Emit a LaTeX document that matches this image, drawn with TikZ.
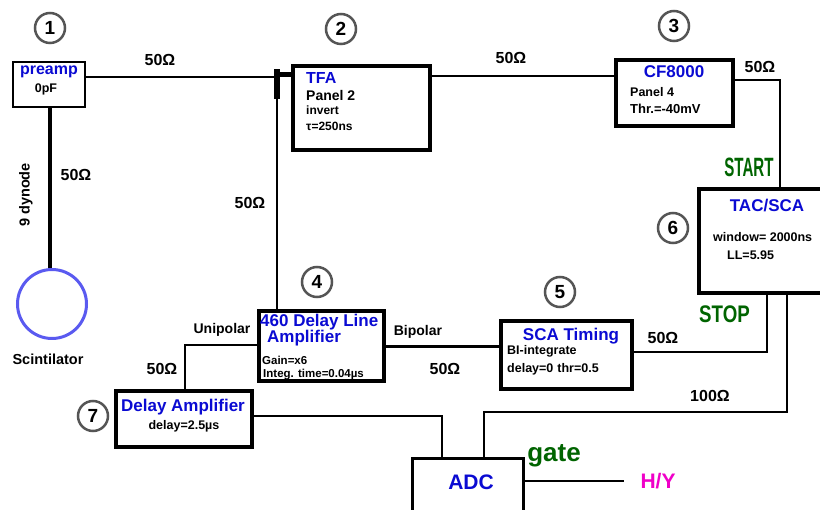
\documentclass[tikz,border=0pt]{standalone}
\usepackage{fontspec}
\setmainfont{Liberation Sans}
\usepackage{graphicx}
\newcommand{\fsz}[1]{\fontsize{#1}{#1}\selectfont}

\begin{document}
\begin{tikzpicture}[x=1pt, y=-1pt, font=\bfseries,
		box/.style={draw, line width=3.6, inner sep=0},
		num/.style={circle, draw=numgray, line width=2.5, minimum size=30, inner sep=0, font=\bfseries\fsz{19}},
		ttl/.style={text=titleblue, font=\bfseries\fsz{17}, inner sep=0},
		txt/.style={font=\bfseries\fsz{12.5}, inner sep=0, anchor=west},
		ohm/.style={font=\bfseries\fsz{16}, inner sep=0},
		wire/.style={line width=1.5}]
		\definecolor{titleblue}{RGB}{10,10,210}
		\definecolor{numgray}{RGB}{85,85,85}
		\definecolor{sigreen}{RGB}{0,100,0}
		\definecolor{scintblue}{RGB}{90,90,240}
		\definecolor{hymag}{RGB}{240,0,200}
		
		\useasboundingbox (0,0) rectangle (820,510);
		\clip (0,0) rectangle (820,510);
		
		% Module boxes
		\node[box, line width=2.6, minimum width=72, minimum height=45] (preamp) at (49,84.5) {};
		\node[box, line width=4, minimum width=137, minimum height=84] (tfa) at (361.5,108) {};
		\node[box, minimum width=117, minimum height=66] (cf) at (674.5,93) {};
		\node[box, line width=4, minimum width=141, minimum height=104] (tac) at (769.5,241) {};
		\node[box, minimum width=125, minimum height=70] (dla) at (321.5,346) {};
		\node[box, minimum width=131, minimum height=68] (sca) at (566.5,355) {};
		\node[box, minimum width=136, minimum height=56] (dly) at (184,419) {};
		\node[box, line width=3, minimum width=111, minimum height=71] (adc) at (467.5,494.5) {};
		\node[circle, draw=scintblue, line width=3, minimum size=69, inner sep=0] (scint) at (52,304) {};
		\node[fill=black, minimum width=6, minimum height=30, inner sep=0] (bar) at (277,84) {};
		
		% Numbers
		\node[num] (n1) at (50,28) {1};
		\node[num] (n2) at (341,29) {2};
		\node[num] (n3) at (674,26) {3};
		\node[num] (n4) at (317,282) {4};
		\node[num] (n5) at (560,292) {5};
		\node[num] (n6) at (673,228) {6};
		\node[num] (n7) at (93,416) {7};
		
		% Box texts
		\node[ttl, font=\bfseries\fsz{16}] (preampt) at (49,72) {preamp};
		\node[inner sep=0, font=\bfseries\fsz{12.5}] (preampv) at (46,89) {0pF};
		\node[ttl, font=\bfseries\fsz{16}, anchor=west] (tfat) at (306,78) {TFA};
		\node[txt, font=\bfseries\fsz{14}] (tfap) at (306,95) {Panel 2};
		\node[txt, font=\bfseries\fsz{12}] (tfai) at (306,110) {invert};
		\node[txt, font=\bfseries\fsz{12}] (tfat2) at (306,126) {τ=250ns};
		\node[ttl] (cft) at (674,72) {CF8000};
		\node[txt] (cfp) at (630,92) {Panel 4};
		\node[txt, font=\bfseries\fsz{13}] (cfthr) at (630,109) {Thr.=-40mV};
		\node[ttl] (tact) at (767,206) {TAC/SCA};
		\node[txt] (tacw) at (713,237) {window= 2000ns};
		\node[txt] (tacl) at (727,255) {LL=5.95};
		\node[ttl, anchor=west] (dlat) at (260,322) {460 Delay Line};
		\node[ttl, anchor=west] (dlat2) at (267,338) {Amplifier};
		\node[txt, font=\bfseries\fsz{11.5}] (dlag) at (262,360) {Gain=x6};
		\node[txt, font=\bfseries\fsz{11.5}] (dlai) at (263,375) {Integ. time=0.04µs};
		\node[ttl] (scat) at (571,336) {SCA Timing};
		\node[txt] (scab) at (507,351) {BI-integrate};
		\node[txt] (scad) at (507,369) {delay=0\hspace{4pt}thr=0.5};
		\node[ttl] (dlyt) at (183,407) {Delay Amplifier};
		\node[inner sep=0, font=\bfseries\fsz{12.5}] (dlyd) at (184,426) {delay=2.5µs};
		\node[ttl, font=\bfseries\fsz{21}] (adct) at (471,482) {ADC};
		
		% Connectors
		\draw[line width=2.2] (preamp.east |- 0,77) -- (bar.west |- 0,77);
		\draw[line width=5] (bar.east |- 0,75) -- (tfa.west |- 0,75);
		\draw[line width=2.2] (bar.south) -- (bar.south |- dla.north);
		\draw[line width=3.5] (preamp.south -| 50,0) -- (scint.north -| 50,0);
		\coordinate (tf) at (520,76);
		\draw[wire] (tfa.east |- tf) -- (cf.west |- tf);
		\coordinate (startpt) at (780,80);
		\draw[wire] (cf.east |- startpt) -- (startpt) -- (startpt |- tac.north);
		\coordinate (stoppt) at (767,352);
		\draw[line width=2] (stoppt |- tac.south) -- (stoppt) -- (sca.east |- stoppt);
		\coordinate (k1) at (787,412);
		\coordinate (k2) at (484,412);
		\draw[line width=2.4] (k1 |- tac.south) -- (k1) -- (k2) -- (k2 |- adc.north);
		\coordinate (bip) at (440,347);
		\draw[line width=3] (dla.east |- bip) -- (sca.west |- bip);
		\coordinate (uni) at (185,345);
		\draw[line width=2] (dla.west |- uni) -- (uni) -- (uni |- dly.north);
		\coordinate (d1) at (442,416);
		\draw[line width=2.4] (dly.east |- d1) -- (d1) -- (d1 |- adc.north);
		\coordinate (hyend) at (624,481);
		\draw[wire] (adc.east |- hyend) -- (hyend);
		
		% Labels
		\node[ohm] (o1) at (160,60) {50Ω};
		\node[ohm] (o2) at (511,58) {50Ω};
		\node[ohm] (o3) at (760,67) {50Ω};
		\node[ohm] (o4) at (76,175) {50Ω};
		\node[ohm] (o5) at (250,203) {50Ω};
		\node[ohm] (o6) at (162,369) {50Ω};
		\node[ohm] (o7) at (445,369) {50Ω};
		\node[ohm] (o8) at (663,338) {50Ω};
		\node[ohm] (o9) at (710,396) {100Ω};
		\node[inner sep=0, font=\bfseries\fsz{14.5}, rotate=90] (dyn) at (26,195) {9 dynode};
		\node[inner sep=0, font=\bfseries\fsz{14.5}] (scl) at (48,359) {Scintilator};
		\node[inner sep=0, font=\bfseries\fsz{14}] (unil) at (222,330) {Unipolar};
		\node[inner sep=0, font=\bfseries\fsz{14}] (bipl) at (418,332) {Bipolar};
		\node[inner sep=0, text=sigreen, font=\bfseries\fsz{26.5}] (start) at (749,167.5) {\scalebox{0.57}[1]{START}};
		\node[inner sep=0, text=sigreen, font=\bfseries\fsz{24}] (stop) at (724.5,314.5) {\scalebox{0.78}[1]{STOP}};
		\node[inner sep=0, text=sigreen, font=\bfseries\fsz{26}] (gate) at (554,456) {gate};
		\node[inner sep=0, text=hymag, font=\bfseries\fsz{21}] (hy) at (658,481) {H/Y};
	\end{tikzpicture}
\end{document}
